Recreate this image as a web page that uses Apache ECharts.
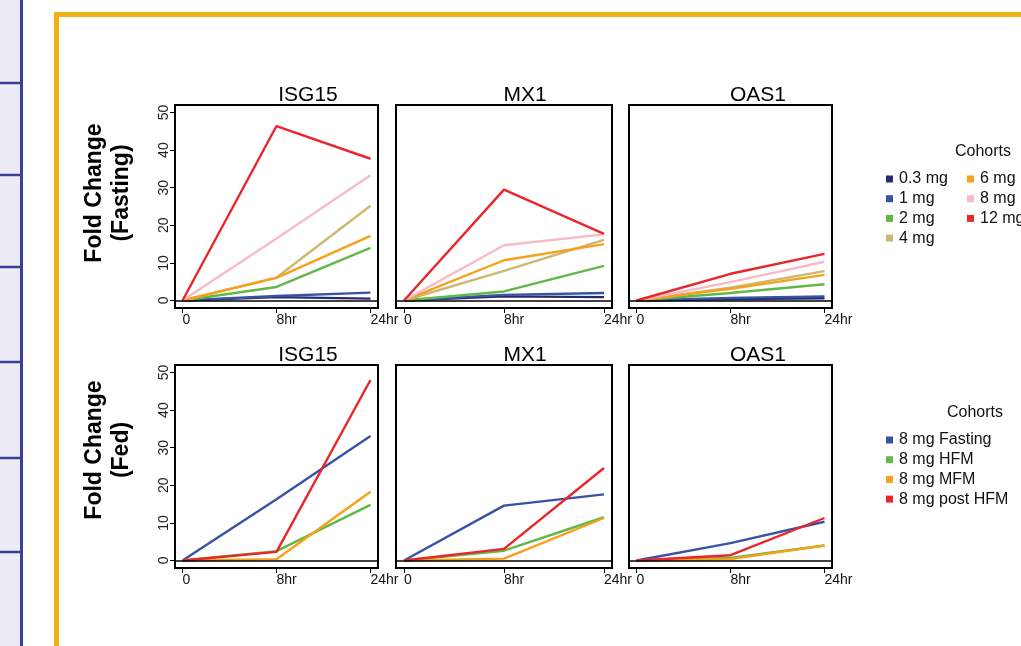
<!DOCTYPE html>
<html>
<head>
<meta charset="utf-8">
<style>
  html, body { margin: 0; padding: 0; background: #ffffff; }
  #chart { width: 1021px; height: 646px; }
</style>
<script src="https://cdn.jsdelivr.net/npm/echarts@6/dist/echarts.min.js"></script>
</head>
<body>
<div id="chart"></div>
<script>
// Time points and tick labels
const timeLabels = ['0', '8hr', '24hr'];
const timeIndex = [0, 1, 2];
const genes = ['ISG15', 'MX1', 'OAS1'];
const yTicks = [0, 10, 20, 30, 40, 50];

// Fasting dose cohorts (top row)
const fastingCohorts = ['0.3 mg', '1 mg', '2 mg', '4 mg', '6 mg', '8 mg', '12 mg'];
const fastingColors = ['#262B6B', '#3953A4', '#62B847', '#CDB86F', '#F7A11A', '#F7BAC6', '#E92629'];
// fold change per cohort at 0, 8hr, 24hr
const fastingISG15 = [
  [0, 0.9, 0.5], [0, 1.2, 2.1], [0, 3.6, 14.0], [0, 6.1, 25.2],
  [0, 6.0, 17.2], [0, 16.5, 33.3], [0, 46.4, 37.7]
];
const fastingMX1 = [
  [0, 1.1, 0.9], [0, 1.5, 2.0], [0, 2.4, 9.2], [0, 7.9, 16.1],
  [0, 10.7, 15.0], [0, 14.7, 17.6], [0, 29.5, 17.7]
];
const fastingOAS1 = [
  [0, 0.4, 0.6], [0, 0.7, 1.1], [0, 2.0, 4.3], [0, 3.4, 7.8],
  [0, 3.1, 6.8], [0, 4.9, 10.3], [0, 7.1, 12.4]
];

// Fed-state cohorts at 8 mg (bottom row)
const fedCohorts = ['8 mg Fasting', '8 mg HFM', '8 mg MFM', '8 mg post HFM'];
const fedColors = ['#3953A4', '#62B847', '#F7A11A', '#E92629'];
const fedISG15 = [[0, 16.3, 33.1], [0, 2.5, 14.8], [0, 0.35, 18.3], [0, 2.3, 48.0]];
const fedMX1 = [[0, 14.6, 17.6], [0, 2.6, 11.5], [0, 0.5, 11.3], [0, 3.1, 24.6]];
const fedOAS1 = [[0, 4.6, 10.3], [0, 0.7, 4.0], [0, 0.35, 4.0], [0, 1.4, 11.3]];

const FONT = "'Liberation Sans', Arial, Helvetica, sans-serif";

// Panel layout: three columns, two rows
const colLeft = [175, 396, 629];
const colWidth = [203, 216, 203];
const rowTop = [105, 365];
const rowHeight = 203;
const titleX = [308, 525, 758];
const titleY = [95, 355];

const grids = [], xAxes = [], yAxes = [], series = [];

function addPanel(row, col, cohorts, colors, values) {
  const idx = grids.length;
  grids.push({
    left: colLeft[col], top: rowTop[row], width: colWidth[col], height: rowHeight,
    show: true, borderColor: '#000', borderWidth: 2, backgroundColor: 'transparent'
  });
  xAxes.push({
    gridIndex: idx, type: 'value', min: -0.08, max: 2.08, position: 'bottom',
    axisLine: { show: false, onZero: false },
    splitLine: { show: false },
    axisTick: { show: true, inside: false, customValues: timeIndex, length: 5, lineStyle: { color: '#000', width: 1 } },
    axisLabel: {
      show: true, customValues: timeIndex, formatter: v => timeLabels[v],
      fontFamily: FONT, fontSize: 14, color: '#111', margin: 5, align: 'left'
    }
  });
  const showY = col === 0;
  yAxes.push({
    gridIndex: idx, type: 'value', min: -2, max: 52, position: 'left',
    axisLine: { show: false, onZero: false },
    splitLine: { show: false },
    axisTick: { show: showY, inside: false, customValues: yTicks, length: 5, lineStyle: { color: '#000', width: 1 } },
    axisLabel: {
      show: showY, customValues: yTicks, rotate: 90, align: 'center', verticalAlign: 'bottom',
      fontFamily: FONT, fontSize: 14, color: '#222', margin: 4
    }
  });
  cohorts.forEach((name, i) => {
    series.push({
      name: name, type: 'line', xAxisIndex: idx, yAxisIndex: idx,
      data: values[i].map((v, t) => [timeIndex[t], v]),
      symbol: 'none', color: colors[i],
      lineStyle: { width: 2.4, color: colors[i] },
      silent: true, animation: false,
      markLine: i === 0 ? {
        silent: true, symbol: 'none', label: { show: false },
        lineStyle: { color: '#000', width: 1.5, type: 'solid' },
        data: [{ yAxis: 0 }]
      } : undefined
    });
  });
}

addPanel(0, 0, fastingCohorts, fastingColors, fastingISG15);
addPanel(0, 1, fastingCohorts, fastingColors, fastingMX1);
addPanel(0, 2, fastingCohorts, fastingColors, fastingOAS1);
addPanel(1, 0, fedCohorts, fedColors, fedISG15);
addPanel(1, 1, fedCohorts, fedColors, fedMX1);
addPanel(1, 2, fedCohorts, fedColors, fedOAS1);

const legendBase = {
  orient: 'vertical', icon: 'rect', itemWidth: 7, itemHeight: 7, itemGap: 3.7,
  selectedMode: false,
  textStyle: { fontFamily: FONT, fontSize: 16, color: '#111', lineHeight: 16, padding: [0, 0, 0, 1] }
};

// Page decoration: side navigation strip and framed content area
const sideLinesY = [83, 175, 267, 362, 458, 552];
const graphics = [
  { type: 'rect', shape: { x: 0, y: 0, width: 21, height: 646 }, style: { fill: '#ECEBF5' }, silent: true },
  { type: 'line', shape: { x1: 21.5, y1: 0, x2: 21.5, y2: 646 }, style: { stroke: '#3A3F96', lineWidth: 3 }, silent: true },
  ...sideLinesY.map(y => ({
    type: 'line', shape: { x1: 0, y1: y, x2: 21, y2: y }, style: { stroke: '#3A3F96', lineWidth: 2.5 }, silent: true
  })),
  { type: 'polyline', shape: { points: [[56.5, 646], [56.5, 14.5], [1021, 14.5]] },
    style: { stroke: '#EDB314', lineWidth: 5, fill: null }, silent: true }
];

// Panel titles
genes.forEach((g, c) => {
  [0, 1].forEach(r => {
    graphics.push({
      type: 'text', x: titleX[c], y: titleY[r], silent: true,
      style: { text: g, fontFamily: FONT, fontSize: 21, fill: '#000', align: 'center', verticalAlign: 'middle' }
    });
  });
});

// Row axis titles
const rowTitles = [['Fold Change', '(Fasting)'], ['Fold Change', '(Fed)']];
const rowTitleY = [193, 450];
rowTitles.forEach((lines, r) => {
  lines.forEach((t, k) => {
    graphics.push({
      type: 'text', x: 95 + k * 27, y: rowTitleY[r], rotation: Math.PI / 2, silent: true,
      style: { text: t, fontFamily: FONT, fontSize: 23, fontWeight: 'bold', fill: '#000', align: 'center', verticalAlign: 'middle' }
    });
  });
});

// Legend headings
graphics.push({
  type: 'text', x: 983, y: 152, silent: true,
  style: { text: 'Cohorts', fontFamily: FONT, fontSize: 16, fill: '#111', align: 'center', verticalAlign: 'middle' }
});
graphics.push({
  type: 'text', x: 975, y: 413, silent: true,
  style: { text: 'Cohorts', fontFamily: FONT, fontSize: 16, fill: '#111', align: 'center', verticalAlign: 'middle' }
});

const chart = echarts.init(document.getElementById('chart'), null, { renderer: 'canvas' });
chart.setOption({
  backgroundColor: '#ffffff',
  animation: false,
  textStyle: { fontFamily: FONT },
  grid: grids,
  xAxis: xAxes,
  yAxis: yAxes,
  series: series,
  legend: [
    Object.assign({}, legendBase, { left: 881, top: 166, data: fastingCohorts.slice(0, 4) }),
    Object.assign({}, legendBase, { left: 962, top: 166, data: fastingCohorts.slice(4) }),
    Object.assign({}, legendBase, { left: 881, top: 427, data: fedCohorts })
  ],
  graphic: graphics
});
</script>
</body>
</html>
